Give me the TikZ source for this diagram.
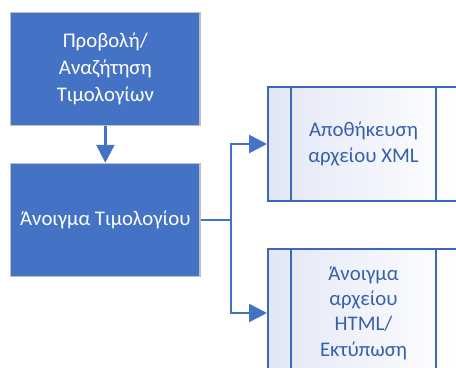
\documentclass[tikz,border=0pt]{standalone}
\usepackage{fontspec}
\setmainfont{Carlito}
\usetikzlibrary{arrows.meta}

\definecolor{boxblue}{RGB}{68,114,196}
\definecolor{lineblue}{RGB}{61,104,183}
\definecolor{textblue}{RGB}{55,96,172}
\definecolor{shadeblue}{RGB}{226,231,245}
\definecolor{edgegray}{RGB}{191,191,191}

\tikzset{every picture/.style={line width=0.75pt}}
\tikzset{
  stepblock/.style={draw=edgegray, line width=1.1pt, fill=boxblue, text=white,
    minimum width=142pt, minimum height=84.75pt, align=center,
    font=\fontsize{15.6pt}{20.2pt}\selectfont},
  procblock/.style={draw=lineblue, line width=1.5pt, left color=shadeblue, right color=white,
    text=textblue, minimum width=143.25pt, align=center,
    font=\fontsize{15.6pt}{19pt}\selectfont,
    path picture={
      \draw[lineblue, line width=1.7pt] ([xshift=17.25pt]path picture bounding box.north west) -- ([xshift=17.25pt]path picture bounding box.south west);
      \draw[lineblue, line width=1.7pt] ([xshift=-17.25pt]path picture bounding box.north east) -- ([xshift=-17.25pt]path picture bounding box.south east);
    }},
  link/.style={draw=boxblue, line width=1.9pt},
  linkarrow/.style={link, -{Triangle[length=13.5pt,width=13.5pt]}}
}

\begin{document}
\begin{tikzpicture}[x=0.75pt,y=0.75pt,yscale=-1]
\clip (0,0) rectangle (456,367);
\useasboundingbox (0,0) rectangle (456,367);

% Step boxes
\node[stepblock] (search) at (105.35,69.2) {Προβολή/\\Αναζήτηση\\Τιμολογίων};
\node[stepblock] (open) at (105.35,220) {Άνοιγμα Τιμολογίου};

% Predefined processes
\node[procblock, minimum height=85.5pt] (xml) at (363.5,144) {Αποθήκευση\\αρχείου XML};
\node[procblock, minimum height=96pt] (html) at (363.5,313) {Άνοιγμα\\αρχείου\\HTML/\\Εκτύπωση};

% Connectors
\coordinate (split) at (231,220);
\draw[linkarrow] (search) -- (open);
\draw[link] (open) -- (split);
\draw[linkarrow] (split) |- (xml);
\draw[linkarrow] (split) |- (html);

\end{tikzpicture}
\end{document}
